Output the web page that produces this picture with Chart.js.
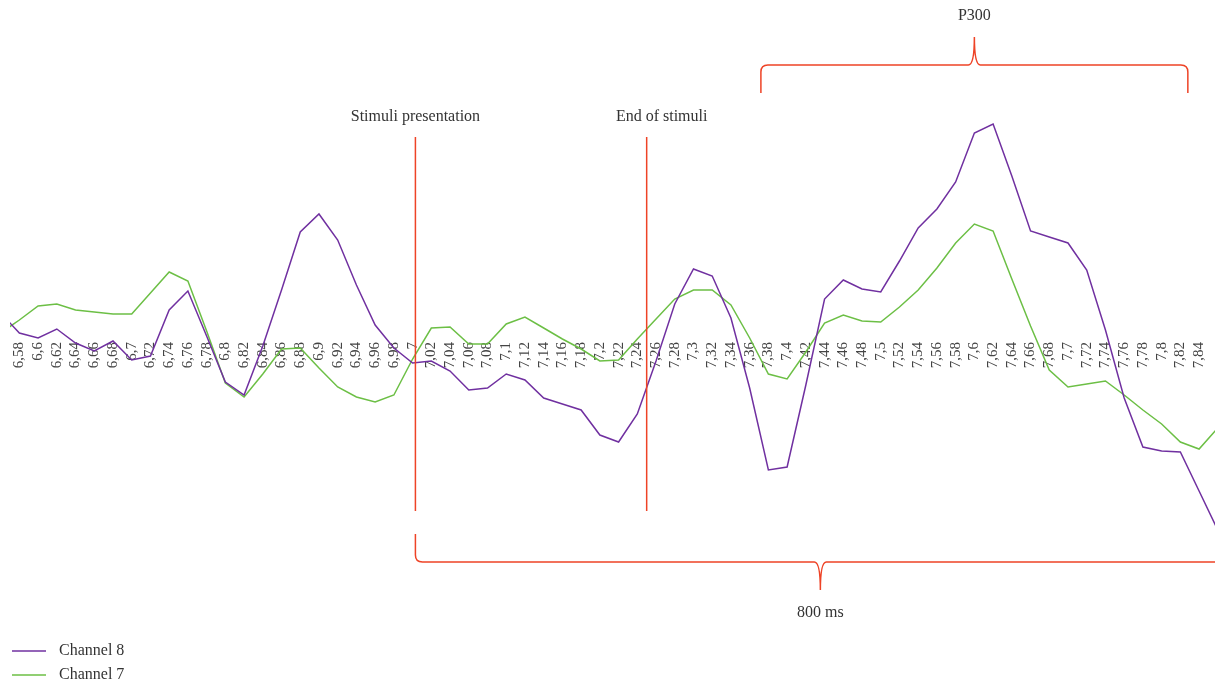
<!DOCTYPE html>
<html>
<head>
<meta charset="utf-8">
<script src="https://cdn.jsdelivr.net/npm/chart.js@4/dist/chart.umd.min.js"></script>
<style>
  body { margin: 0; background: #fff; }
  #wrap { width: 1215px; height: 684px; }
</style>
</head>
<body>
<div id="wrap"><canvas id="myChart" width="1215" height="684"></canvas></div>
<script>
// EEG trace, channels 7 and 8, around stimulus onset (time in s)

const times = [
  6.56, 6.58, 6.6, 6.62, 6.64, 6.66, 6.68, 6.7, 6.72, 6.74, 6.76, 6.78, 6.8,
  6.82, 6.84, 6.86, 6.88, 6.9, 6.92, 6.94, 6.96, 6.98, 7, 7.02, 7.04, 7.06,
  7.08, 7.1, 7.12, 7.14, 7.16, 7.18, 7.2, 7.22, 7.24, 7.26, 7.28, 7.3, 7.32,
  7.34, 7.36, 7.38, 7.4, 7.42, 7.44, 7.46, 7.48, 7.5, 7.52, 7.54, 7.56, 7.58,
  7.6, 7.62, 7.64, 7.66, 7.68, 7.7, 7.72, 7.74, 7.76, 7.78, 7.8, 7.82, 7.84,
  7.86,
];

const tickLabels = [
  "6,58", "6,6", "6,62", "6,64", "6,66", "6,68", "6,7", "6,72", "6,74", "6,76",
  "6,78", "6,8", "6,82", "6,84", "6,86", "6,88", "6,9", "6,92", "6,94", "6,96",
  "6,98", "7", "7,02", "7,04", "7,06", "7,08", "7,1", "7,12", "7,14", "7,16",
  "7,18", "7,2", "7,22", "7,24", "7,26", "7,28", "7,3", "7,32", "7,34", "7,36",
  "7,38", "7,4", "7,42", "7,44", "7,46", "7,48", "7,5", "7,52", "7,54", "7,56",
  "7,58", "7,6", "7,62", "7,64", "7,66", "7,68", "7,7", "7,72", "7,74", "7,76",
  "7,78", "7,8", "7,82", "7,84",
];
const tickTimes = times.slice(1, 65);

const channel8 = [
  2.7, 0.7, 0.2, 1.1, -0.3, -1.1, -0.1, -2.0, -1.6, 3.0, 4.9, 0.4, -4.2,
  -5.5, -0.6, 5.0, 10.8, 12.6, 10.0, 5.5, 1.5, -0.8, -2.3, -2.1, -3.1, -5.0,
  -4.8, -3.4, -4.0, -5.8, -6.4, -7.0, -9.5, -10.2, -7.4, -2.1, 3.6, 7.1, 6.4,
  2.2, -4.8, -13.0, -12.7, -4.5, 4.1, 6.0, 5.1, 4.8, 7.9, 11.2, 13.1, 15.8,
  20.7, 21.6, 16.4, 10.9, 10.3, 9.7, 7.0, 1.0, -5.8, -10.7, -11.1, -11.2, -15.1,
  -19.0,
];

const channel7 = [
  0.7, 2.0, 3.4, 3.6, 3.0, 2.8, 2.6, 2.6, 4.7, 6.8, 5.9, 0.9, -4.3,
  -5.7, -3.4, -0.9, -0.8, -2.8, -4.7, -5.7, -6.2, -5.5, -1.9, 1.2, 1.3, -0.4,
  -0.4, 1.6, 2.3, 1.2, 0.1, -0.9, -2.1, -2.0, 0.1, 2.1, 4.1, 5.0, 5.0,
  3.5, 0.2, -3.4, -3.9, -1.2, 1.7, 2.5, 1.9, 1.8, 3.3, 5.0, 7.2, 9.7,
  11.6, 10.9, 6.1, 1.4, -3.0, -4.7, -4.4, -4.1, -5.5, -7.0, -8.4, -10.2, -10.9,
  -8.8,
];

// markers on the time axis
const stimStart = 7.003;
const stimEnd = 7.25;
const p300From = 7.372;
const p300To = 7.828;
const p300Peak = 7.6;
const windowFrom = 7.003;
const windowTo = 7.868;

const purple = "#7030a0";
const green = "#6cbf45";
const red = "#ee4326";
const textColor = "#333333";
const serif = '"Liberation Serif", "DejaVu Serif", serif';

function brace(ctx, x1, x2, xc, yLine, yEnd, yTip) {
  const d = yEnd > yLine ? 1 : -1;
  ctx.beginPath();
  ctx.moveTo(x1, yEnd);
  ctx.lineTo(x1, yLine + d * 7);
  ctx.quadraticCurveTo(x1, yLine, x1 + 7, yLine);
  ctx.lineTo(xc - 6, yLine);
  ctx.quadraticCurveTo(xc, yLine, xc, yTip);
  ctx.quadraticCurveTo(xc, yLine, xc + 6, yLine);
  ctx.lineTo(x2 - 7, yLine);
  ctx.quadraticCurveTo(x2, yLine, x2, yLine + d * 7);
  ctx.lineTo(x2, yEnd);
  ctx.stroke();
}

const axisLabels = {
  id: "axisLabels",
  beforeDatasetsDraw(chart) {
    const { ctx, scales } = chart;
    const y0 = scales.y.getPixelForValue(0) + 2;
    ctx.save();
    ctx.font = "15px " + serif;
    ctx.fillStyle = "#444";
    ctx.textAlign = "right";
    ctx.textBaseline = "middle";
    tickLabels.forEach((t, i) => {
      const px = scales.x.getPixelForValue(tickTimes[i]);
      ctx.save();
      ctx.translate(px, y0);
      ctx.rotate(-Math.PI / 2);
      ctx.fillText(t, 0, 0);
      ctx.restore();
    });
    ctx.restore();
  },
};

const annotations = {
  id: "annotations",
  afterDraw(chart) {
    const { ctx, scales } = chart;
    const x = (v) => scales.x.getPixelForValue(v);
    ctx.save();

    // stimulus lines
    ctx.strokeStyle = red;
    ctx.lineWidth = 1.5;
    [stimStart, stimEnd].forEach((t) => {
      ctx.beginPath();
      ctx.moveTo(x(t), 137);
      ctx.lineTo(x(t), 511);
      ctx.stroke();
    });

    // braces
    brace(ctx, x(p300From), x(p300To), x(p300Peak), 65, 93, 37);
    brace(ctx, x(windowFrom), x(windowTo), (x(windowFrom) + x(windowTo)) / 2, 562, 534, 590);

    // texts
    ctx.fillStyle = textColor;
    ctx.font = "16px " + serif;
    ctx.textAlign = "center";
    ctx.textBaseline = "middle";
    ctx.fillText("Stimuli presentation", x(stimStart), 117);
    ctx.fillText("End of stimuli", x(stimEnd) + 15, 117);
    ctx.fillText("P300", x(p300Peak), 16);
    ctx.fillText("800 ms", (x(windowFrom) + x(windowTo)) / 2, 613);

    // legend
    ctx.textAlign = "left";
    ctx.font = "16px " + serif;
    [[purple, "Channel 8", 651], [green, "Channel 7", 675]].forEach(([c, name, ly]) => {
      ctx.strokeStyle = c;
      ctx.lineWidth = 1.5;
      ctx.beginPath();
      ctx.moveTo(12, ly);
      ctx.lineTo(46, ly);
      ctx.stroke();
      ctx.fillText(name, 59, ly);
    });
    ctx.restore();
  },
};

const ch8 = {
  label: "Channel 8",
  data: times.map((t, i) => ({ x: t, y: channel8[i] })),
  borderColor: purple,
  borderWidth: 1.5,
  pointRadius: 0,
  tension: 0,
};

const ch7 = {
  label: "Channel 7",
  data: times.map((t, i) => ({ x: t, y: channel7[i] })),
  borderColor: green,
  borderWidth: 1.5,
  pointRadius: 0,
  tension: 0,
};

const config = {
  type: "line",
  data: { datasets: [ch8, ch7] },
  options: {
    responsive: false,
    animation: false,
    layout: { padding: { left: 10, right: 0, top: 90, bottom: 94 } },
    plugins: { legend: { display: false }, tooltip: { enabled: false } },
    scales: {
      x: { type: "linear", min: 6.57, max: 7.857, display: false },
      y: { min: -25, max: 25, display: false },
    },
  },
  plugins: [axisLabels, annotations],
};

new Chart(document.querySelector("#myChart"), config);
</script>
</body>
</html>
